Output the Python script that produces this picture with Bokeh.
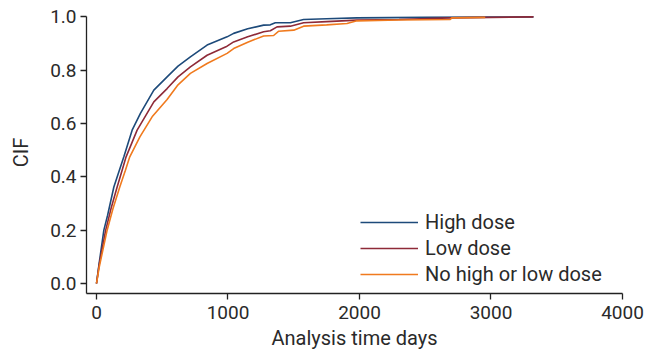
from bokeh.plotting import figure
from bokeh.models import Range1d, Legend, LegendItem, FixedTicker
from bokeh.embed import file_html
from bokeh.resources import INLINE

# ---- data ----
high_days = [0, 20, 56, 84, 132, 174, 208, 271, 334, 436, 537, 620, 714, 841, 993, 1043, 1150, 1271,
             1322, 1360, 1474, 1575, 1750, 1981, 2500, 3000, 3323]
high_cif = [0, 0.075, 0.2, 0.255, 0.362, 0.425, 0.475, 0.575, 0.638, 0.725, 0.775, 0.815, 0.85, 0.894,
            0.925, 0.938, 0.955, 0.969, 0.970, 0.978, 0.978, 0.99, 0.993, 0.996, 0.998, 0.999, 1.0]

low_days = [0, 20, 70, 110, 157, 195, 225, 309, 436, 537, 620, 714, 841, 993, 1043, 1150, 1271, 1322,
            1373, 1474, 1575, 1750, 1981, 2300, 2690, 3000, 3323]
low_cif = [0, 0.07, 0.2, 0.28, 0.362, 0.425, 0.475, 0.575, 0.681, 0.731, 0.775, 0.8125, 0.856, 0.89,
           0.906, 0.925, 0.944, 0.948, 0.9625, 0.965, 0.978, 0.982, 0.9875, 0.99, 0.996, 0.998, 1.0]

none_days = [0, 20, 81, 125, 177, 220, 253, 330, 423, 537, 620, 714, 841, 993, 1043, 1150, 1271, 1347,
             1386, 1500, 1575, 1750, 1905, 1981, 2300, 2690, 2702, 2956]
none_cif = [0, 0.06, 0.2, 0.28, 0.362, 0.425, 0.475, 0.55, 0.625, 0.69, 0.745, 0.788, 0.825, 0.863,
            0.881, 0.905, 0.928, 0.93, 0.946, 0.95, 0.965, 0.97, 0.975, 0.985, 0.988, 0.99, 0.996, 0.998]

series_names = ["High dose", "Low dose", "No high or low dose"]
series_colors = ["#1d4a7a", "#8e2a38", "#f07a1e"]

x_ticks = [0, 1000, 2000, 3000, 4000]
y_ticks = [0.0, 0.2, 0.4, 0.6, 0.8, 1.0]

FONT = "Roboto"
TEXT_COLOR = "#2a2a2a"

p = figure(width=661, height=356, output_backend="svg", toolbar_location=None,
           x_range=Range1d(-76, 4000), y_range=Range1d(-0.0375, 1.02),
           min_border_left=86, min_border_right=39, min_border_top=11, min_border_bottom=63)
p.outline_line_color = None
p.grid.visible = False
p.background_fill_color = "white"
p.border_fill_color = "white"

items = []
for d, c, name, col in zip([high_days, low_days, none_days], [high_cif, low_cif, none_cif],
                           series_names, series_colors):
    r = p.line(d, c, line_color=col, line_width=1.6)
    items.append(LegendItem(label=name, renderers=[r]))

legend = Legend(items=items, location=(274, 7), padding=0, margin=0, spacing=2,
                glyph_width=58, glyph_height=24, label_height=24, label_standoff=7,
                background_fill_alpha=0, border_line_color=None,
                label_text_font=FONT, label_text_font_size="20px", label_text_color=TEXT_COLOR)
p.add_layout(legend)

for ax in (p.xaxis[0], p.yaxis[0]):
    ax.axis_line_color = "#222222"
    ax.axis_line_width = 1.3
    ax.major_tick_line_color = "#222222"
    ax.major_tick_line_width = 1.3
    ax.major_tick_out = 6
    ax.major_tick_in = 0
    ax.minor_tick_line_color = None
    ax.major_label_text_font = FONT
    ax.major_label_text_font_size = "19px"
    ax.major_label_text_color = TEXT_COLOR
    ax.axis_label_text_font = FONT
    ax.axis_label_text_font_size = "20px"
    ax.axis_label_text_font_style = "normal"
    ax.axis_label_text_color = TEXT_COLOR

p.xaxis.ticker = FixedTicker(ticks=x_ticks)
p.yaxis.ticker = FixedTicker(ticks=y_ticks)
p.yaxis.bounds = (-0.0375, 1.0)
p.xaxis.major_label_overrides = {t: str(t) for t in x_ticks}
p.yaxis.major_label_overrides = {t: f"{t:.1f}" for t in y_ticks}
p.xaxis.axis_label = "Analysis time days"
p.yaxis.axis_label = "CIF"
p.xaxis.major_label_standoff = 6
p.yaxis.major_label_standoff = 4
p.xaxis.axis_label_standoff = 4
p.yaxis.axis_label_standoff = 14

open("out.html", "w").write(file_html(p, INLINE))
